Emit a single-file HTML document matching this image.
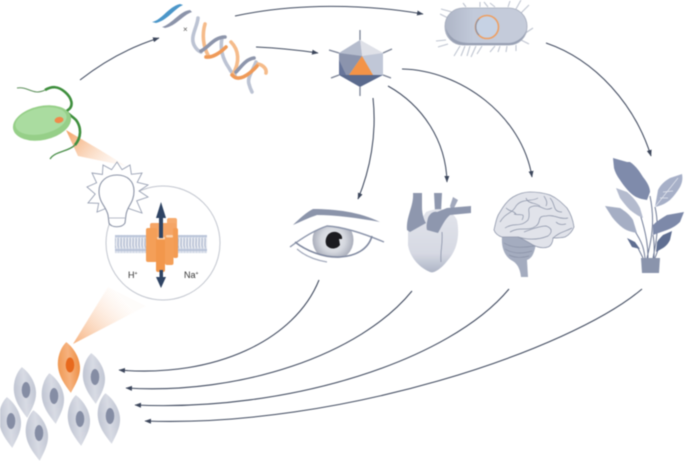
<!DOCTYPE html>
<html><head><meta charset="utf-8"><style>
html,body{margin:0;padding:0;background:#fff}
svg{display:block;font-family:"Liberation Sans",sans-serif;filter:blur(.4px)}
</style></head><body>
<svg width="685" height="461" viewBox="0 0 685 461" xmlns="http://www.w3.org/2000/svg">
<defs>
<linearGradient id="b1" gradientUnits="userSpaceOnUse" x1="68" y1="132" x2="112" y2="170"><stop offset="0" stop-color="#f4a76e"/><stop offset="1" stop-color="#fbdcc4" stop-opacity=".2"/></linearGradient>
<linearGradient id="b2" gradientUnits="userSpaceOnUse" x1="75" y1="343" x2="122" y2="298"><stop offset="0" stop-color="#f7b584"/><stop offset="1" stop-color="#fde6d5" stop-opacity=".1"/></linearGradient>
<linearGradient id="cg" x1="0" y1="0" x2="1" y2="0"><stop offset="0" stop-color="#c0c5d2"/><stop offset=".5" stop-color="#d8dbe4"/><stop offset="1" stop-color="#c2c7d4"/></linearGradient>
<linearGradient id="og" x1="0" y1="0" x2="1" y2="0"><stop offset="0" stop-color="#f09a55"/><stop offset=".5" stop-color="#f6b27e"/><stop offset="1" stop-color="#ee8f45"/></linearGradient>
<linearGradient id="bac" x1="0" y1="0" x2="1" y2="0"><stop offset="0" stop-color="#aeb5c6"/><stop offset=".35" stop-color="#c2cada"/><stop offset="1" stop-color="#c6ccda"/></linearGradient>
<linearGradient id="hrt" x1="0" y1="0" x2="0" y2="1"><stop offset="0" stop-color="#e2e4eb"/><stop offset=".7" stop-color="#d6d9e3"/><stop offset="1" stop-color="#aeb5c6"/></linearGradient>
<radialGradient id="iris"><stop offset="0" stop-color="#eceef2"/><stop offset=".6" stop-color="#d4d7de"/><stop offset="1" stop-color="#a9adba"/></radialGradient>
<path id="cell" d="M-1-25C5-20 11-10 11 0C11 10 5 18 0 26C-5 18-11 9-11-2C-11-12-6-21-1-25Z"/>
<pattern id="mem" width="3" height="18" patternUnits="userSpaceOnUse"><rect width="3" height="18" fill="#e6e9f0"/><circle cx="1.5" cy="2" r="1.6" fill="#bcc6da"/><circle cx="1.5" cy="16" r="1.6" fill="#bcc6da"/><path d="M1 4C2 7 0 9 1.5 14" stroke="#a4b0c9" stroke-width=".9" fill="none"/></pattern>
<marker id="a" markerWidth="7" markerHeight="6" refX="6" refY="3" orient="auto" markerUnits="userSpaceOnUse"><path d="M0 .5L6.5 3L0 5.5Z" fill="#3d475c"/></marker>
<clipPath id="eyeclip"><path d="M295 241C305 235 316 229 327 226C342 227 358 232 372 236C368 245 355 254 340 257C325 258 308 252 295 241Z"/></clipPath>
</defs>

<!-- beams -->
<path d="M66 130L78 156L126 166L100 150Z" fill="url(#b1)"/>
<path d="M73 344L108 287L146 306Z" fill="url(#b2)"/>

<!-- connectors -->
<g fill="none" stroke="#3f495e" stroke-width="1.05" marker-end="url(#a)">
<path d="M80 80C103 62 130 47 159 38"/>
<path d="M235 16C295 3 365 4 423 14"/>
<path d="M256 47C278 48 298 50 318 53"/>
<path d="M546 43C596 60 635 105 651 156"/>
<path d="M373 98C377 135 370 170 358 199"/>
<path d="M388 86C422 105 446 140 447 182"/>
<path d="M402 69C460 70 522 115 532 177"/>
<path d="M319 280C295 340 215 378 119 370"/>
<path d="M412 291C360 355 240 395 126 388"/>
<path d="M509 289C450 360 290 412 135 405"/>
<path d="M642 289C570 350 340 428 145 421"/>
</g>

<!-- DNA -->
<path d="M152 22C162 20 168 7 180 4L183 5C174 9 168 20 156 23Z" fill="#4b96c9"/>
<path d="M162 27C172 24 180 11 190 10L192 12C183 15 176 26 165 28Z" fill="#8b93a9"/>
<g fill="none" stroke-linecap="round" stroke-width="3.6">
<path d="M198 18C197 28 190 36 194 45C196 49 198 51 201 52" stroke="#bcc3d3"/>
<path d="M222 38C220 48 222 58 229 68C231 72 233 74 235 75" stroke="#bcc3d3"/>
<path d="M256 62C252 72 247 78 249 84C250 88 251 90 252 92" stroke="#bcc3d3"/>
<path d="M205 24C202 34 203 46 208 55" stroke="#f5bb8a"/>
<path d="M231 42C239 50 240 62 233 74" stroke="#f5bb8a"/>
<path d="M258 64C263 65 267 69 266 73" stroke="#f5bb8a"/>
<path d="M201 51C208 48 214 37 225 37" stroke="#8d95ab"/>
<path d="M236 72C241 67 246 59 254 58" stroke="#8d95ab"/>
<path d="M206 57C212 58 220 53 226 47" stroke="#ef9a58"/>
<path d="M232 75C238 82 248 76 257 66" stroke="#ef9a58"/>
</g>
<text x="183" y="32" font-size="8" fill="#555">×</text>

<!-- green cell -->
<path d="M17 88C28 86 33 96 45 90" fill="none" stroke="#5c8f5a" stroke-width="1"/>
<path d="M45 90C52 86 58 86 65 92C72 98 74 106 68 110C64 112 70 114 76 120C82 128 81 138 75 145" fill="none" stroke="#3f8f3e" stroke-width="2.6"/>
<path d="M75 145C68 152 55 151 50 159" fill="none" stroke="#4b8f4a" stroke-width="1.3"/>
<ellipse cx="42" cy="123" rx="29.5" ry="17" transform="rotate(-12 42 123)" fill="#96cf88"/>
<ellipse cx="41" cy="121" rx="26" ry="13" transform="rotate(-12 41 121)" fill="#aadca0"/>
<ellipse cx="59" cy="120" rx="4.5" ry="3" transform="rotate(-10 59 120)" fill="#f08a4b"/>

<!-- circle -->
<circle cx="163" cy="243" r="57" fill="#fff" stroke="#c2c6cf" stroke-width="1"/>

<!-- bulb -->
<path d="M107 208L97 212L98.7 203.3L88 203L95.2 194L87 187L96.6 182.8L92 173L102.4 174.5L103 165L111.6 169.7L117 162L122 169.7L130 165L131.4 174.3L142 173L137.2 182.3L148 185L139 191L148 197L136.7 200.8L142 213L127 208Z" fill="#fff" stroke="#98a0b3" stroke-width=".9" stroke-linejoin="miter"/>
<path d="M108 215C106 206 99 203 99 191C99 181 107 175 117 175C127 175 134 181 134 191C134 203 127 206 126 215L125 223C122 228 111 228 109 223Z" fill="#fff" stroke="#8b93a6" stroke-width="1.1"/>
<path d="M108 218H126" stroke="#a0a7b8" stroke-width=".8"/>

<!-- membrane -->
<rect x="115" y="235" width="32" height="18" fill="url(#mem)"/>
<rect x="178" y="235" width="29" height="18" fill="url(#mem)"/>
<!-- channel -->
<g>
<rect x="167" y="218" width="10" height="20" rx="2" fill="#f6ab6e"/>
<rect x="150" y="223" width="26" height="16" rx="2" fill="#f5a566"/>
<rect x="146" y="228" width="11" height="34" rx="2" fill="#f49f58"/>
<rect x="173" y="228" width="5" height="30" rx="2" fill="#f39c54"/>
<rect x="156" y="238" width="9" height="34" rx="2" fill="#f2974c"/>
<rect x="165" y="237" width="8.5" height="28" rx="2" fill="#f49f58"/>
<rect x="157" y="237" width="8" height="2.5" rx="1" fill="#fbd2ad"/>
<rect x="166" y="235" width="7" height="2.5" rx="1" fill="#fbd2ad"/>
</g>
<!-- arrows -->
<rect x="159" y="212" width="4" height="26" fill="#2f4464"/>
<path d="M161 202L166 218H156Z" fill="#2f4464"/>
<rect x="159.5" y="270" width="3.5" height="9" fill="#2f4464"/>
<path d="M161 288L156 277H166Z" fill="#2f4464"/>
<text x="128" y="278" font-size="9" fill="#333">H<tspan font-size="5" dy="-3">+</tspan></text>
<text x="184" y="278" font-size="9" fill="#333">Na<tspan font-size="5" dy="-3">+</tspan></text>

<!-- virus -->
<g stroke="#7a8295" stroke-width="1.3"><path d="M360 40V30M383 53L392 49M383 75L391 78M360 87V96M339 75L331 78M339 53L329 50"/></g>
<path d="M360 40L383 53V75L360 87L339 75V53Z" fill="#c0c7d7"/>
<path d="M360 40L383 53L362 56Z" fill="#dfe1e8"/>
<path d="M360 40L339 53L362 56Z" fill="#b5bccd"/>
<path d="M339 53L362 56L349 75H339Z" fill="#8b94ad"/>
<path d="M339 60V75L346 75Z" fill="#67759a"/>
<path d="M339 75H383L360 87Z" fill="#5a6a8d"/>
<path d="M362 56L373 75H349Z" fill="#f39347"/>

<!-- bacterium -->
<g stroke="#bfc5d1" stroke-width="1.1" fill="none">
<path d="M452 12L441 9M448 18L440 14M446 40L436 41M448 44L438 47M460 46L454 56M465 46L461 56M470 46L467 56M476 46L471 57M482 46L477 54M495 46L490 52M500 46L498 52M507 46L506 52M516 45L516 51M521 40L529 44M524 34L533 28M521 13L529 5M516 9L521 0M508 7L510 1M495 7L490 3M488 7L484 2M480 7L480 2M466 7L463 3"/>
</g>
<rect x="445" y="8" width="82" height="37" rx="18" fill="url(#bac)" stroke="#a3aabb" stroke-width=".8"/>
<path d="M446 28C450 40 460 43 470 43H508C516 43 523 38 526 31C524 40 516 45 508 45H464C454 45 447 38 446 28Z" fill="#98a0b3"/>
<circle cx="487" cy="27" r="11.5" fill="#c6d2e4" stroke="#ee9f62" stroke-width="1.6"/>
<path d="M479 19A11.5 11.5 0 0 0 479 35" fill="none" stroke="#8a92a6" stroke-width="1.2"/>

<!-- eye -->
<path d="M293 225C300 218 307 212 313 209C335 209 360 212 380 222C358 218 335 215 317 215C308 218 300 222 293 225Z" fill="#8b94aa"/>
<circle cx="333" cy="240" r="20.5" fill="url(#iris)" clip-path="url(#eyeclip)"/>
<path d="M290 247C302 238 315 230 327 226C345 227 365 234 384 242" fill="none" stroke="#8b94aa" stroke-width="1.4"/>
<path d="M295 242C305 250 323 258 340 257C355 256 368 250 372 236" fill="none" stroke="#7f889f" stroke-width="1.6"/>
<path d="M297 249C305 256 315 260 327 262" fill="none" stroke="#a3aabc" stroke-width="1.3"/>
<path d="M333 232C338 231 343 235 342 239L339 239L340 245C336 250 330 249 327 246C324 242 326 233 333 232Z" fill="#1c1c20"/>

<!-- heart -->
<path d="M434 193H442L441 212H435Z" fill="#8e97ae"/>
<path d="M450 206L453 197L458 200L452 212Z" fill="#a2a9bd"/>
<path d="M408 230C414 226 420 222 426 212C440 206 452 210 457 220C460 236 457 250 448 260C442 268 434 274 430 272C420 268 410 258 408 245Z" fill="url(#hrt)"/>
<path d="M413 193H422L422 207C422 214 424 220 426 223L410 232L407 230C406 216 414 206 413 193Z" fill="#8e97ae"/>
<path d="M428 218C430 213 434 211 437 212L447 208L471 206L471 213L450 215C445 219 442 226 438 233L427 230C426 226 427 222 428 218Z" fill="#8e97ae"/>
<path d="M442 232C443 245 440 250 441 262" fill="none" stroke="#8a92a8" stroke-width=".8"/>

<!-- brain -->
<path d="M502 236H534L536 244C534 254 532 258 527 260L528 277H521C520 268 517 263 511 260C505 256 501 248 502 236Z" fill="#a4acbf"/>
<g fill="none" stroke="#8a92a7" stroke-width=".7"><path d="M504 243C512 248 522 248 534 246M505 249C513 254 522 254 532 251M509 255C515 258 522 258 529 256"/></g>
<path d="M494 230C496 221 497 216 500 212C504 205 508 200 513 197C518 194 524 192 530 192C537 192 544 193 550 195C557 198 562 203 567 208C571 214 573 220 574 227C572 232 569 235 565 237C561 238 557 238 553 238C553 242 551 246 548 247C542 249 537 247 533 245C528 242 523 239 518 237C512 237 507 237 502 237C498 236 495 233 494 230Z" fill="#e1e3ea" stroke="#8f97ab" stroke-width=".8"/>
<g fill="none" stroke="#8d95a9" stroke-width=".75">
<path d="M500 222C506 212 512 214 516 206C522 198 532 202 538 198"/>
<path d="M505 228C514 222 520 228 528 220C532 212 524 208 534 206C542 205 544 212 552 208"/>
<path d="M510 232C520 226 528 232 536 226C542 222 536 216 546 216C554 214 560 220 568 218"/>
<path d="M518 237C528 240 538 240 548 236C553 232 552 228 546 226C538 226 530 230 524 232"/>
<path d="M553 238C560 232 564 232 572 228"/>
<path d="M550 198C556 204 552 212 562 212"/>
<path d="M514 214C520 216 526 212 522 220"/>
<path d="M506 208C510 212 513 210 516 214"/>
<path d="M526 198C528 204 534 202 540 206"/>
<path d="M556 222C560 226 564 224 566 224"/>
<path d="M544 196C546 200 548 202 546 206"/>
</g>

<!-- plant -->
<g fill="none" stroke="#6f7a96" stroke-width="1"><path d="M650 196C656 225 650 245 647 258M655 207C660 228 655 248 653 258M640 214C647 236 648 248 648 258M634 230C643 243 644 250 645 258M653 235C655 245 654 252 654 258M638 248L643 258M658 250L655 258"/></g>
<path d="M613 158L627 162L630 162C636 166 640 172 643 177C647 182 650 187 650 192L647 200C641 199 637 198 633 195C628 191 624 186 620 180C617 176 615 172 614 168Z" fill="#7f8bab"/>
<path d="M655 207L658 190C661 184 665 181 670 178L682 174C683 179 682 183 680 187C677 192 674 196 670 200C665 204 660 206 655 207Z" fill="#a7b0c8"/>
<path d="M655 207L678 178M660 198L668 198M663 192L673 191" stroke="#e4e7ef" stroke-width=".7" fill="none"/>
<path d="M616 188L627 192C633 197 637 202 640 208L643 218C638 216 634 213 630 210C626 206 623 202 620 198Z" fill="#b4bbce"/>
<path d="M605 206L620 208C625 211 630 215 633 220L637 233C632 232 627 231 623 228C619 225 615 221 612 217Z" fill="#a5aec4"/>
<path d="M684 212L680 222C676 226 672 228 667 230L653 235L653 225C657 221 662 218 667 215Z" fill="#7d89a9"/>
<path d="M672 231L670 240C668 244 666 246 663 248L656 252L657 242C659 239 661 237 663 235Z" fill="#5f6e91"/>
<path d="M627 238L635 242L640 249L632 247Z" fill="#5f6e91"/>
<path d="M641 258H660L659 273H642Z" fill="#8a94ac"/>

<!-- cells -->
<g fill="url(#cg)">
<use href="#cell" transform="translate(94 378) rotate(-4)"/>
<use href="#cell" transform="translate(25 392) rotate(-5)"/>
<use href="#cell" transform="translate(53 398) rotate(-6)"/>
<use href="#cell" transform="translate(79 420) rotate(-5)"/>
<use href="#cell" transform="translate(109 418) rotate(-6)"/>
<use href="#cell" transform="translate(10 422) rotate(-5)"/>
<use href="#cell" transform="translate(37 435) rotate(-6)"/>
</g>
<use href="#cell" transform="translate(69 367) rotate(-4)" fill="url(#og)"/>
<ellipse cx="70" cy="365" rx="4.3" ry="7.5" fill="#e8691d"/>
<g fill="#858da4">
<ellipse cx="95" cy="377" rx="4.3" ry="8"/>
<ellipse cx="26" cy="390" rx="4.3" ry="8"/>
<ellipse cx="54" cy="396" rx="4.3" ry="8"/>
<ellipse cx="80" cy="419" rx="4.3" ry="8"/>
<ellipse cx="110" cy="416" rx="4.3" ry="8"/>
<ellipse cx="11" cy="421" rx="4.3" ry="8"/>
<ellipse cx="39" cy="433" rx="4.3" ry="8"/>
</g>
</svg>
</body></html>
